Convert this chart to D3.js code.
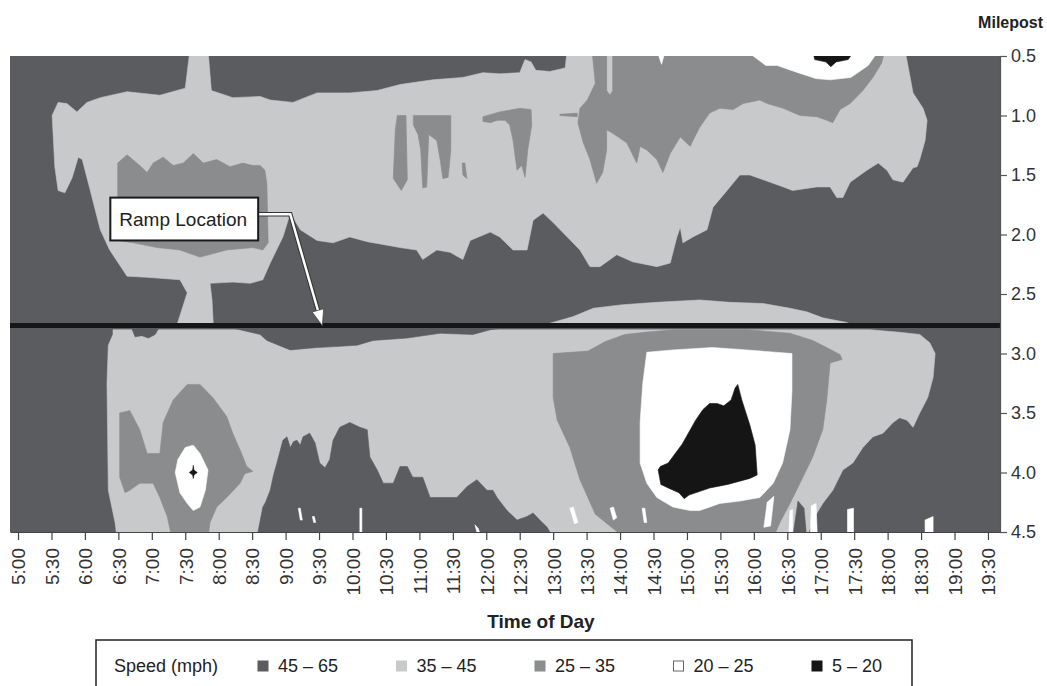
<!DOCTYPE html>
<html>
<head>
<meta charset="utf-8">
<script src="https://cdn.jsdelivr.net/npm/d3@7"></script>
<style>
  body { margin: 0; background: #fff; }
  text { font-family: "Liberation Sans", Arial, sans-serif; fill: #333; }
</style>
</head>
<body>
<svg width="1047" height="686"></svg>
<script>
// speed classes (mph), fastest first
const speedBins = ["45 \u2013 65", "35 \u2013 45", "25 \u2013 35", "20 \u2013 25", "5 \u2013 20"];
const binColors = ["#5b5c5f", "#c8c9cb", "#8b8c8e", "#ffffff", "#151515"];

const timeLabels = ["5:00","5:30","6:00","6:30","7:00","7:30","8:00","8:30","9:00","9:30",
  "10:00","10:30","11:00","11:30","12:00","12:30","13:00","13:30","14:00","14:30",
  "15:00","15:30","16:00","16:30","17:00","17:30","18:00","18:30","19:00","19:30"];
const mileposts = [0.5, 1.0, 1.5, 2.0, 2.5, 3.0, 3.5, 4.0, 4.5];
const timeRange = [4.88, 19.68];
const rampMilepost = 2.765;

// contour regions, [time of day (h), milepost]
const lightNorth = [[5.51,1.00],[5.60,0.89],[5.73,0.90],[5.88,0.97],[6.03,0.89],[6.23,0.85],[6.63,0.80],
  [7.12,0.83],[7.50,0.77],[7.57,0.45],[7.84,0.45],[7.89,0.79],[8.21,0.85],[8.62,0.84],[8.77,0.87],
  [9.11,0.89],[9.47,0.81],[9.96,0.81],[10.37,0.79],[10.71,0.74],[11.20,0.70],[11.65,0.68],[11.95,0.64],
  [12.20,0.65],[12.50,0.64],[12.58,0.53],[12.67,0.55],[12.74,0.62],[12.95,0.63],[13.18,0.60],[13.21,0.45],
  [18.26,0.45],[18.38,0.81],[18.53,0.94],[18.59,1.04],[18.56,1.21],[18.48,1.37],[18.44,1.43],[18.38,1.44],
  [18.23,1.56],[18.08,1.54],[17.99,1.46],[17.86,1.40],[17.69,1.46],[17.44,1.56],[17.33,1.69],[17.24,1.69],
  [17.14,1.60],[16.94,1.60],[16.58,1.63],[16.44,1.60],[15.94,1.50],[15.79,1.50],[15.60,1.63],[15.39,1.77],
  [15.30,1.96],[15.09,2.02],[14.94,2.07],[14.90,1.94],[14.85,2.02],[14.75,2.24],[14.55,2.27],[14.19,2.23],
  [13.95,2.17],[13.70,2.27],[13.55,2.27],[13.40,2.13],[13.21,2.02],[13.00,1.90],[12.85,1.82],[12.70,1.88],
  [12.61,2.13],[12.40,2.13],[12.20,2.02],[12.06,1.98],[11.76,2.05],[11.65,2.21],[11.46,2.15],[11.26,2.13],
  [11.05,2.21],[10.96,2.13],[10.71,2.11],[10.22,2.06],[9.96,2.02],[9.71,2.07],[9.47,2.05],[9.22,1.96],
  [9.07,1.82],[8.96,2.02],[8.77,2.24],[8.66,2.38],[8.47,2.41],[8.21,2.40],[7.87,2.41],[7.90,2.55],
  [7.92,2.77],[7.37,2.77],[7.53,2.49],[7.42,2.38],[6.93,2.36],[6.63,2.35],[6.37,2.13],[6.23,1.96],
  [6.08,1.63],[5.96,1.37],[5.90,1.35],[5.81,1.52],[5.70,1.65],[5.60,1.63],[5.55,1.43]];
const mediumRampBox = [[6.49,1.40],[6.63,1.33],[6.82,1.42],[6.93,1.48],[7.02,1.40],[7.17,1.35],[7.32,1.42],
  [7.47,1.40],[7.62,1.32],[7.77,1.40],[7.97,1.37],[8.17,1.43],[8.36,1.40],[8.51,1.42],[8.62,1.42],
  [8.69,1.46],[8.72,1.57],[8.74,2.07],[8.66,2.13],[8.51,2.11],[8.12,2.13],[7.72,2.19],[7.42,2.13],
  [7.08,2.11],[6.72,2.07],[6.49,2.05]];
const mediumStreakA = [[10.67,1.00],[10.80,1.00],[10.82,1.54],[10.73,1.63],[10.61,1.53],[10.64,1.12]];
const mediumStreakB = [[10.91,1.00],[11.47,1.00],[11.47,1.29],[11.43,1.52],[11.35,1.53],[11.31,1.37],
  [11.26,1.21],[11.14,1.16],[11.11,1.60],[11.05,1.61],[11.02,1.29],[10.98,1.16],[10.91,1.08]];
const mediumStreakC = [[11.64,1.40],[11.68,1.40],[11.71,1.53],[11.65,1.50]];
const mediumStreakD = [[11.95,1.01],[12.20,0.97],[12.50,0.94],[12.67,0.95],[12.68,1.08],[12.62,1.29],
  [12.58,1.52],[12.53,1.42],[12.46,1.46],[12.40,1.21],[12.35,1.08],[12.28,1.04],[12.17,1.04],
  [12.06,1.06],[11.95,1.05]];
const mediumStreakE = [[13.10,0.99],[13.36,0.98],[13.36,1.01],[13.10,1.00]];
const mediumNorth = [[13.58,0.45],[13.63,0.73],[13.51,0.87],[13.40,0.94],[13.37,1.06],[13.45,1.23],
  [13.55,1.37],[13.65,1.57],[13.74,1.48],[13.80,1.29],[13.80,1.12],[13.89,1.15],[14.10,1.23],[14.25,1.40],
  [14.30,1.26],[14.40,1.29],[14.55,1.37],[14.64,1.48],[14.75,1.32],[14.90,1.18],[15.05,1.26],[15.09,1.21],
  [15.19,1.10],[15.34,0.98],[15.49,0.94],[15.69,0.95],[15.84,0.90],[16.09,0.87],[16.20,0.90],[16.44,0.94],
  [16.69,1.00],[16.94,1.01],[17.09,1.04],[17.18,1.06],[17.29,0.95],[17.44,0.90],[17.63,0.79],[17.78,0.68],
  [17.91,0.56],[17.96,0.45],[13.89,0.45],[13.89,0.79],[13.85,0.83],[13.80,0.79],[13.80,0.45]];
const whiteNotch = [[14.55,0.45],[14.62,0.57],[14.68,0.45]];
const whiteNorth = [[15.87,0.45],[16.18,0.58],[16.35,0.58],[16.66,0.64],[16.93,0.69],[17.14,0.70],
  [17.45,0.68],[17.71,0.58],[17.87,0.45]];
const blackNorth = [[16.88,0.45],[17.51,0.45],[17.41,0.53],[17.23,0.55],[17.15,0.59],[17.08,0.55],[16.91,0.53]];
const lightAboveRamp = [[12.80,2.77],[13.30,2.69],[13.60,2.62],[14.04,2.59],[14.55,2.57],[15.19,2.55],
  [15.64,2.57],[16.14,2.58],[16.54,2.62],[16.79,2.65],[17.03,2.70],[17.39,2.74],[17.51,2.77]];

const lightSouth = [[6.42,2.80],[17.74,2.80],[18.14,2.82],[18.48,2.84],[18.63,2.91],[18.71,3.00],
  [18.68,3.20],[18.60,3.37],[18.48,3.50],[18.38,3.62],[18.29,3.56],[18.18,3.54],[18.08,3.58],[17.93,3.67],
  [17.78,3.70],[17.63,3.79],[17.48,3.92],[17.33,3.98],[17.18,4.15],[17.03,4.26],[16.88,4.40],[16.79,4.55],
  [6.48,4.55],[6.45,4.42],[6.35,4.15],[6.33,3.25],[6.35,2.93],[6.42,2.84]];
const darkBelowRampA = [[6.70,2.79],[6.75,2.86],[6.85,2.85],[6.95,2.87],[7.05,2.84],[7.10,2.79]];
const darkBelowRampB = [[8.24,2.79],[8.62,2.84],[8.72,2.89],[9.07,2.97],[9.47,2.95],[9.81,2.94],[10.07,2.93],
  [10.31,2.89],[10.82,2.87],[11.31,2.83],[11.80,2.84],[12.06,2.80],[12.20,2.79]];
const mediumWest = [[6.52,3.50],[6.67,3.48],[6.82,3.64],[6.93,3.84],[7.12,3.84],[7.17,3.58],[7.32,3.39],
  [7.53,3.26],[7.72,3.26],[7.91,3.37],[8.12,3.53],[8.21,3.67],[8.32,3.81],[8.42,3.95],[8.51,3.99],
  [8.39,4.01],[8.32,4.09],[8.12,4.21],[7.97,4.29],[7.87,4.42],[7.84,4.55],[7.30,4.55],[7.23,4.37],
  [7.12,4.21],[7.02,4.09],[6.82,4.09],[6.67,4.15],[6.60,4.17],[6.52,4.04]];
const whiteWest = [[7.50,3.79],[7.62,3.77],[7.72,3.84],[7.84,3.98],[7.80,4.15],[7.72,4.29],[7.62,4.32],
  [7.53,4.26],[7.42,4.17],[7.35,4.00],[7.39,3.89]];
const blackWest = [[7.56,4.00],[7.61,3.98],[7.62,3.94],[7.63,3.98],[7.68,4.00],[7.63,4.02],[7.62,4.05],[7.61,4.02]];
const darkSouth = [[8.57,4.55],[8.66,4.29],[8.70,4.25],[8.77,4.15],[8.82,4.02],[8.87,3.92],[8.96,3.73],
  [9.02,3.70],[9.07,3.79],[9.12,3.74],[9.17,3.73],[9.22,3.77],[9.26,3.70],[9.36,3.67],[9.44,3.75],
  [9.51,3.92],[9.59,3.96],[9.66,3.89],[9.71,3.73],[9.81,3.62],[9.96,3.58],[10.11,3.62],[10.22,3.64],
  [10.26,3.87],[10.37,3.98],[10.46,4.09],[10.61,4.09],[10.71,3.95],[10.82,3.95],[10.90,4.04],[11.05,4.04],
  [11.16,4.21],[11.31,4.21],[11.56,4.21],[11.71,4.12],[11.86,4.06],[12.01,4.15],[12.10,4.15],[12.16,4.21],
  [12.31,4.32],[12.46,4.40],[12.61,4.37],[12.70,4.34],[12.80,4.40],[12.91,4.46],[13.00,4.55]];
const mediumSouth = [[13.00,3.00],[13.52,2.98],[13.78,2.90],[14.07,2.84],[14.40,2.82],[14.82,2.80],
  [15.90,2.80],[16.54,2.83],[16.88,2.89],[17.09,2.95],[17.29,3.01],[17.32,3.05],[17.14,3.08],[17.09,3.39],
  [17.03,3.64],[16.88,3.87],[16.69,4.09],[16.54,4.26],[16.39,4.42],[16.29,4.55],[14.07,4.55],[13.63,4.35],
  [13.40,4.06],[13.25,3.79],[13.06,3.56],[13.00,3.37]];
const whiteSouth = [[14.40,2.99],[14.79,2.97],[15.38,2.95],[15.89,2.97],[16.57,3.00],[16.57,3.31],
  [16.54,3.64],[16.43,3.92],[16.29,4.09],[16.09,4.21],[15.79,4.24],[15.49,4.26],[15.19,4.32],[15.05,4.32],
  [14.79,4.29],[14.55,4.21],[14.40,4.09],[14.30,3.92],[14.30,3.58],[14.34,3.25]];
const blackSouth = [[14.60,3.95],[14.72,3.92],[14.93,3.76],[15.13,3.56],[15.24,3.47],[15.34,3.42],
  [15.45,3.42],[15.55,3.44],[15.66,3.39],[15.72,3.29],[15.76,3.26],[15.82,3.39],[15.94,3.60],[16.02,3.77],
  [16.05,4.02],[15.94,4.05],[15.61,4.10],[15.34,4.13],[15.03,4.19],[14.96,4.22],[14.88,4.17],[14.72,4.13],
  [14.61,4.10],[14.57,3.98]];
const darkSpike = [[16.58,4.55],[16.66,4.24],[16.75,4.30],[16.79,4.55]];
const whiteSlivers = [
  [[16.84,4.55],[16.86,4.28],[16.93,4.26],[16.95,4.55]],
  [[17.40,4.55],[17.40,4.31],[17.49,4.30],[17.49,4.55]],
  [[18.56,4.55],[18.56,4.40],[18.68,4.37],[18.68,4.55]],
  [[16.52,4.55],[16.54,4.32],[16.58,4.31],[16.58,4.55]],
  [[10.11,4.55],[10.11,4.30],[10.14,4.30],[10.14,4.55]],
  [[11.83,4.44],[11.88,4.47],[11.91,4.52],[11.87,4.52]],
  [[13.25,4.30],[13.30,4.29],[13.37,4.42],[13.32,4.43]],
  [[13.85,4.30],[13.90,4.29],[13.95,4.38],[13.90,4.40]],
  [[14.33,4.30],[14.37,4.30],[14.40,4.42],[14.36,4.42]],
  [[16.20,4.25],[16.30,4.20],[16.25,4.45],[16.15,4.46]],
  [[9.19,4.30],[9.22,4.30],[9.25,4.40],[9.22,4.40]],
  [[9.40,4.37],[9.43,4.37],[9.45,4.42],[9.42,4.42]]
];

// drawing order: [region, speed class index]
const layers = [
  [lightNorth, 1], [mediumRampBox, 2], [mediumStreakA, 2], [mediumStreakB, 2], [mediumStreakC, 2],
  [mediumStreakD, 2], [mediumStreakE, 2], [mediumNorth, 2], [whiteNotch, 3], [whiteNorth, 3],
  [blackNorth, 4], [lightAboveRamp, 1], [lightSouth, 1], [darkBelowRampA, 0], [darkBelowRampB, 0],
  [mediumWest, 2], [whiteWest, 3], [blackWest, 4], [darkSouth, 0], [mediumSouth, 2],
  [whiteSouth, 3], [blackSouth, 4], [darkSpike, 0]
].concat(whiteSlivers.map(p => [p, 3]));

const parseTime = s => { const [h, m] = s.split(":").map(Number); return h + m / 60; };

const svg = d3.select("svg");
const x = d3.scaleLinear().domain(timeRange).range([10, 1000]);
const y = d3.scaleLinear().domain([0.5, 4.5]).range([56, 532]);

svg.append("clipPath").attr("id", "plotClip")
  .append("rect")
  .attr("x", x(timeRange[0])).attr("y", y(0.5))
  .attr("width", x(timeRange[1]) - x(timeRange[0]))
  .attr("height", y(4.5) - y(0.5));

const plot = svg.append("g").attr("clip-path", "url(#plotClip)");

plot.append("rect")
  .attr("x", x(timeRange[0])).attr("y", y(0.5))
  .attr("width", x(timeRange[1]) - x(timeRange[0]))
  .attr("height", y(4.5) - y(0.5))
  .attr("fill", binColors[0]);

const area = d3.line().x(d => x(d[0])).y(d => y(d[1]));

plot.selectAll("path.region")
  .data(layers)
  .enter()
  .append("path")
  .attr("class", "region")
  .attr("d", d => area(d[0]) + "Z")
  .attr("fill", d => binColors[d[1]])
  .attr("stroke", d => binColors[d[1]])
  .attr("stroke-width", 0.6);

// ramp location line
plot.append("line")
  .attr("x1", x(timeRange[0])).attr("x2", x(timeRange[1]))
  .attr("y1", y(rampMilepost)).attr("y2", y(rampMilepost))
  .attr("stroke", "#161616").attr("stroke-width", 5);

// callout
const leader = [[8.59, 1.83], [9.07, 1.83], [9.50, 2.67]].map(d => [x(d[0]), y(d[1])]);
const leaderPath = d3.line()(leader);
svg.append("path").attr("d", leaderPath).attr("fill", "none")
  .attr("stroke", "#333").attr("stroke-width", 4.5);
svg.append("path").attr("d", leaderPath).attr("fill", "none")
  .attr("stroke", "#fff").attr("stroke-width", 2.5);
{
  const [p1, p2] = [leader[1], leader[2]];
  const len = Math.hypot(p2[0] - p1[0], p2[1] - p1[1]);
  const ux = (p2[0] - p1[0]) / len, uy = (p2[1] - p1[1]) / len;
  const tip = [p2[0] + ux * 12, p2[1] + uy * 12];
  const base = [p2[0] - ux * 4, p2[1] - uy * 4];
  const head = [tip, [base[0] - uy * 6, base[1] + ux * 6], [base[0] + uy * 6, base[1] - ux * 6]];
  svg.append("path").attr("d", d3.line()(head) + "Z")
    .attr("fill", "#fff").attr("stroke", "#444").attr("stroke-width", 0.8);
}
svg.append("rect")
  .attr("x", x(6.38)).attr("y", y(1.69))
  .attr("width", x(8.59) - x(6.38)).attr("height", y(2.05) - y(1.69))
  .attr("fill", "#fff").attr("stroke", "#1a1a1a").attr("stroke-width", 2);
svg.append("text")
  .attr("x", x(6.38) + 9).attr("y", (y(1.69) + y(2.05)) / 2)
  .attr("dy", "0.36em")
  .style("font-size", "19px").style("fill", "#222")
  .text("Ramp Location");

// right axis
const yAxis = d3.axisRight(y).tickValues(mileposts).tickFormat(d3.format(".1f")).tickSize(7).tickPadding(4);
const yAxisG = svg.append("g")
  .attr("transform", `translate(${x(timeRange[1])},0)`)
  .call(yAxis);
yAxisG.select(".domain").attr("stroke", "#555").attr("stroke-width", 1.2);
yAxisG.selectAll(".tick line").attr("stroke", "#555").attr("stroke-width", 1.2);
yAxisG.selectAll(".tick text").style("font-size", "18px").style("fill", "#333")
  .style("font-family", "'Liberation Sans', Arial, sans-serif");

svg.append("text")
  .attr("x", 1043).attr("y", 28)
  .attr("text-anchor", "end")
  .style("font-size", "16px").style("font-weight", "bold").style("fill", "#222")
  .text("Milepost");

// bottom axis
const xAxis = d3.axisBottom(x)
  .tickValues(timeLabels.map(parseTime))
  .tickFormat((d, i) => timeLabels[i])
  .tickSize(8).tickPadding(6).tickSizeOuter(0);
const xAxisG = svg.append("g")
  .attr("transform", `translate(0,${y(4.5)})`)
  .call(xAxis);
xAxisG.select(".domain").attr("stroke", "#444").attr("stroke-width", 1.2);
xAxisG.selectAll(".tick line").attr("stroke", "#444").attr("stroke-width", 1.2);
xAxisG.selectAll(".tick text")
  .style("font-size", "19px").style("fill", "#333")
  .style("font-family", "'Liberation Sans', Arial, sans-serif")
  .attr("text-anchor", "end")
  .attr("transform", "rotate(-90)")
  .attr("x", -16).attr("y", 0).attr("dy", "0.36em");

svg.append("text")
  .attr("x", 541).attr("y", 628)
  .attr("text-anchor", "middle")
  .style("font-size", "19px").style("font-weight", "bold").style("fill", "#222")
  .text("Time of Day");

// legend
const legend = svg.append("g");
legend.append("rect")
  .attr("x", 96).attr("y", 640).attr("width", 816).attr("height", 70)
  .attr("fill", "#fff").attr("stroke", "#222").attr("stroke-width", 1.5);
legend.append("text")
  .attr("x", 114).attr("y", 666).attr("dy", "0.36em")
  .style("font-size", "18px").style("fill", "#222")
  .text("Speed (mph)");
const item = legend.selectAll("g.item")
  .data(speedBins)
  .enter()
  .append("g")
  .attr("class", "item")
  .attr("transform", (d, i) => `translate(${258 + i * 138.5},666)`);
item.append("rect")
  .attr("x", 0).attr("y", -5).attr("width", 10).attr("height", 10)
  .attr("fill", (d, i) => binColors[i])
  .attr("stroke", (d, i) => i === 3 ? "#666" : binColors[i]);
item.append("text")
  .attr("x", 20).attr("dy", "0.36em")
  .style("font-size", "18px").style("fill", "#222")
  .text(d => d);
</script>
</body>
</html>
